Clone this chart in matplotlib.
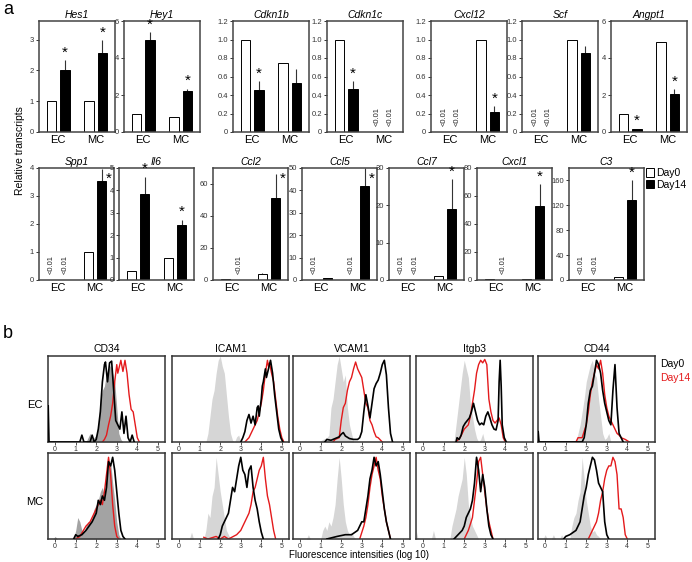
import numpy as np
import matplotlib.pyplot as plt
from matplotlib.ticker import FuncFormatter

plt.rcParams['font.family'] = ['Liberation Sans', 'DejaVu Sans']

# ---------- panel a : qPCR bars (None = "<0.01") ----------
groups = ['EC', 'MC']

top_genes = ['Hes1', 'Hey1', 'Cdkn1b', 'Cdkn1c', 'Cxcl12', 'Scf', 'Angpt1']
top_day0 = [[1.0, 1.0], [1.0, 0.8], [1.0, 0.75], [1.0, None], [None, 1.0], [None, 1.0], [1.0, 4.85]]
top_day14 = [[2.0, 2.55], [5.0, 2.2], [0.45, 0.53], [0.46, None], [None, 0.22], [None, 0.85], [0.17, 2.05]]
top_err0 = [[0, 0], [0, 0], [0, 0], [0, 0], [0, 0], [0, 0], [0, 0]]
top_err14 = [[0.32, 0.42], [0.4, 0.15], [0.1, 0.15], [0.09, 0], [0, 0.06], [0, 0.08], [0, 0.25]]
top_star = [[1, 1], [1, 1], [1, 0], [1, 0], [0, 1], [0, 0], [1, 1]]   # 1 above, 2 beside
top_ymax = [3.6, 6, 1.2, 1.2, 1.2, 1.2, 6]
top_yticks = [[0, 1, 2, 3], [0, 2, 4, 6], [0, 0.2, 0.4, 0.6, 0.8, 1.0, 1.2],
              [0, 0.2, 0.4, 0.6, 0.8, 1.0, 1.2], [0, 0.2, 0.4, 0.6, 0.8, 1.0, 1.2],
              [0, 0.2, 0.4, 0.6, 0.8, 1.0, 1.2], [0, 2, 4, 6]]
top_left = [39, 124, 233, 327, 431, 522, 611]

bot_genes = ['Spp1', 'Il6', 'Ccl2', 'Ccl5', 'Ccl7', 'Cxcl1', 'C3']
bot_day0 = [[None, 1.0], [0.38, 1.0], [0.8, 3.8], [None, None], [None, 1.0], [1.0, 0.5], [None, 5.0]]
bot_day14 = [[None, 3.55], [3.82, 2.45], [None, 51.5], [1.0, 42], [None, 19], [None, 52.5], [None, 128]]
bot_err0 = [[0, 0], [0, 0], [0, 0.8], [0, 0], [0, 0], [0, 0], [0, 0]]
bot_err14 = [[0, 0.4], [0.78, 0.25], [0, 14.5], [0, 8], [0, 8], [0, 16], [0, 32]]
bot_star = [[0, 2], [1, 1], [0, 2], [0, 2], [0, 1], [0, 1], [0, 1]]
bot_ymax = [4, 5, 70, 50, 30, 80, 180]
bot_yticks = [[0, 1, 2, 3, 4], [0, 1, 2, 3, 4, 5], [0, 20, 40, 60], [0, 10, 20, 30, 40, 50],
              [0, 10, 20, 30], [0, 20, 40, 60, 80], [0, 40, 80, 120, 160]]
bot_left = [39, 119, 213, 302, 389, 477, 569]

# ---------- panel b : flow histograms (x = log10 intensity, y = % of max) ----------
markers = ['CD34', 'ICAM1', 'VCAM1', 'Itgb3', 'CD44']

cd34_ec = {
    'ctrl': [(1.5, 0), (1.6, 5), (1.7, 10), (1.8, 3), (1.9, 5), (2.0, 8), (2.1, 20), (2.2, 50), (2.3, 60),
             (2.4, 65), (2.5, 80), (2.6, 85), (2.7, 90), (2.8, 80), (2.9, 70), (3.0, 40), (3.1, 10), (3.2, 3), (3.3, 0)],
    'day0': [(-0.34, 42), (-0.3, 0), (1.2, 0), (1.3, 8), (1.4, 0), (1.7, 0), (1.8, 8), (1.9, 0), (2.0, 3), (2.1, 15),
             (2.2, 35), (2.3, 70), (2.4, 90), (2.45, 93), (2.55, 70), (2.65, 92), (2.75, 94), (2.85, 60), (2.95, 25),
             (3.05, 20), (3.15, 15), (3.25, 35), (3.35, 10), (3.45, 30), (3.55, 5), (3.65, 0), (3.75, 8), (3.85, 0)],
    'day14': [(2.3, 0), (2.4, 3), (2.5, 8), (2.6, 20), (2.7, 30), (2.8, 45), (2.9, 70), (3.0, 90), (3.05, 80),
              (3.1, 85), (3.2, 95), (3.3, 82), (3.4, 95), (3.5, 80), (3.6, 55), (3.7, 38), (3.8, 35), (3.9, 20),
              (4.0, 5), (4.1, 0)],
}
icam1_ec = {
    'ctrl': [(1.3, 0), (1.4, 10), (1.5, 30), (1.6, 50), (1.7, 60), (1.8, 80), (1.9, 95), (2.0, 100), (2.1, 88),
             (2.2, 80), (2.3, 55), (2.4, 30), (2.5, 10), (2.6, 2), (2.7, 0), (2.8, 6), (2.9, 8), (3.0, 0)],
    'day0': [(3.0, 0), (3.1, 5), (3.2, 12), (3.3, 25), (3.4, 32), (3.5, 22), (3.6, 30), (3.7, 20), (3.8, 40),
             (3.85, 42), (3.9, 30), (4.0, 50), (4.05, 65), (4.1, 70), (4.2, 85), (4.25, 75), (4.35, 85), (4.45, 95),
             (4.55, 80), (4.65, 55), (4.75, 35), (4.85, 15), (4.95, 5), (5.05, 0)],
    'day14': [(3.2, 0), (3.4, 5), (3.6, 15), (3.8, 25), (3.9, 35), (4.0, 45), (4.1, 60), (4.2, 80), (4.3, 95),
              (4.35, 88), (4.4, 92), (4.5, 80), (4.6, 70), (4.7, 50), (4.8, 30), (4.9, 15), (5.0, 5), (5.1, 0)],
}
vcam1_ec = {
    'ctrl': [(0.9, 0), (1.1, 3), (1.3, 5), (1.4, 8), (1.5, 40), (1.6, 50), (1.7, 70), (1.8, 90), (1.9, 100),
             (2.0, 85), (2.1, 70), (2.2, 78), (2.3, 40), (2.4, 20), (2.5, 10), (2.6, 0)],
    'day0': [(1.2, 0), (1.3, 3), (1.5, 2), (1.7, 4), (1.9, 6), (2.0, 9), (2.1, 11), (2.2, 7), (2.4, 4), (2.6, 3),
             (2.8, 3), (2.9, 5), (3.0, 12), (3.1, 35), (3.2, 55), (3.3, 42), (3.4, 28), (3.5, 45), (3.6, 62),
             (3.7, 68), (3.8, 72), (3.9, 80), (4.0, 90), (4.1, 95), (4.2, 78), (4.3, 40), (4.4, 10), (4.5, 0)],
    'day14': [(1.6, 0), (1.7, 3), (1.9, 5), (2.0, 25), (2.1, 40), (2.2, 45), (2.3, 60), (2.4, 70), (2.5, 75),
              (2.6, 85), (2.7, 93), (2.8, 85), (2.9, 80), (3.0, 75), (3.1, 60), (3.2, 45), (3.3, 40), (3.4, 25),
              (3.5, 20), (3.6, 12), (3.7, 6), (3.8, 5), (4.0, 0)],
}
itgb3_ec = {
    'ctrl': [(1.5, 0), (1.6, 20), (1.7, 40), (1.8, 60), (1.9, 80), (2.0, 95), (2.1, 85), (2.2, 75), (2.3, 45),
             (2.4, 30), (2.5, 15), (2.6, 5), (2.7, 0), (2.8, 3), (2.9, 10), (3.0, 0)],
    'day0': [(1.6, 0), (1.65, 5), (1.75, 3), (1.85, 8), (1.95, 18), (2.05, 22), (2.15, 25), (2.25, 28), (2.35, 35),
             (2.45, 45), (2.55, 35), (2.65, 25), (2.75, 20), (2.85, 22), (2.95, 20), (3.05, 30), (3.15, 35),
             (3.25, 28), (3.35, 20), (3.45, 15), (3.55, 14), (3.65, 25), (3.7, 70), (3.75, 95), (3.8, 65),
             (3.85, 20), (3.95, 5), (4.05, 0)],
    'day14': [(1.6, 0), (1.8, 5), (2.0, 15), (2.2, 20), (2.3, 30), (2.4, 45), (2.5, 60), (2.6, 80), (2.7, 90),
              (2.8, 95), (2.9, 92), (3.0, 96), (3.1, 90), (3.2, 50), (3.3, 35), (3.4, 25), (3.5, 22), (3.6, 25),
              (3.7, 28), (3.8, 20), (3.9, 5), (4.0, 0)],
}
cd44_ec = {
    'ctrl': [(1.5, 0), (1.7, 20), (1.8, 35), (1.9, 50), (2.0, 70), (2.1, 80), (2.2, 90), (2.3, 95), (2.4, 80),
             (2.5, 75), (2.6, 50), (2.7, 30), (2.8, 10), (2.9, 3), (3.0, 5), (3.1, 10), (3.2, 0)],
    'day0': [(-0.34, 12), (-0.3, 0), (1.8, 0), (1.9, 5), (2.0, 20), (2.1, 45), (2.2, 60), (2.3, 65), (2.4, 80),
             (2.5, 95), (2.6, 90), (2.7, 80), (2.8, 60), (2.9, 45), (3.0, 35), (3.1, 25), (3.2, 20), (3.3, 60),
             (3.4, 90), (3.5, 40), (3.6, 10), (3.7, 5), (3.8, 0)],
    'day14': [(1.5, 0), (1.6, 5), (1.8, 5), (2.0, 20), (2.1, 35), (2.2, 55), (2.3, 70), (2.4, 80), (2.5, 90),
              (2.6, 85), (2.7, 95), (2.8, 80), (2.9, 55), (3.0, 40), (3.1, 30), (3.2, 25), (3.3, 20), (3.4, 15),
              (3.5, 10), (3.6, 8), (3.7, 5), (3.9, 3), (4.1, 0)],
}
cd34_mc = {
    'ctrl': [(-0.1, 0), (0.0, 3), (0.1, 0), (0.9, 0), (1.0, 10), (1.1, 25), (1.2, 20), (1.3, 10), (1.4, 8),
             (1.5, 15), (1.6, 20), (1.7, 20), (1.8, 25), (1.9, 35), (2.0, 40), (2.1, 45), (2.2, 55), (2.3, 60),
             (2.4, 50), (2.5, 70), (2.6, 85), (2.7, 90), (2.8, 65), (2.9, 45), (3.0, 20), (3.1, 5), (3.2, 0)],
    'day0': [(0.9, 0), (1.0, 5), (1.1, 3), (1.3, 5), (1.5, 10), (1.8, 20), (2.0, 30), (2.1, 45), (2.2, 40),
             (2.3, 50), (2.4, 45), (2.5, 60), (2.6, 90), (2.7, 85), (2.8, 95), (2.9, 80), (3.0, 55), (3.1, 30),
             (3.2, 10), (3.3, 3), (3.4, 0)],
    'day14': [(1.0, 0), (1.2, 3), (1.5, 15), (1.7, 20), (1.9, 30), (2.0, 35), (2.1, 40), (2.2, 45), (2.3, 40),
              (2.4, 55), (2.5, 75), (2.6, 95), (2.7, 75), (2.8, 40), (2.9, 15), (3.0, 3), (3.1, 0)],
}
icam1_mc = {
    'ctrl': [(0.5, 0), (0.6, 8), (0.7, 0), (1.2, 0), (1.3, 10), (1.4, 30), (1.5, 25), (1.6, 50), (1.7, 60),
             (1.8, 95), (1.9, 75), (2.0, 55), (2.1, 40), (2.2, 25), (2.3, 10), (2.4, 5), (2.5, 0)],
    'day0': [(1.9, 0), (2.0, 5), (2.1, 15), (2.2, 20), (2.3, 25), (2.4, 30), (2.5, 45), (2.6, 60), (2.7, 55),
             (2.8, 70), (2.9, 85), (3.0, 95), (3.1, 80), (3.2, 75), (3.3, 60), (3.4, 80), (3.5, 85), (3.6, 60),
             (3.7, 45), (3.8, 35), (3.9, 20), (4.0, 8), (4.1, 0)],
    'day14': [(1.2, 2), (1.4, 0), (1.8, 3), (2.0, 0), (2.2, 3), (2.4, 0), (2.8, 5), (3.0, 10), (3.2, 20),
              (3.4, 30), (3.5, 40), (3.6, 55), (3.7, 60), (3.8, 70), (3.9, 80), (4.0, 85), (4.1, 95), (4.2, 70),
              (4.3, 50), (4.4, 40), (4.5, 25), (4.6, 10), (4.7, 0)],
}
vcam1_mc = {
    'ctrl': [(0.3, 0), (0.4, 5), (0.5, 0), (1.0, 0), (1.1, 10), (1.2, 15), (1.3, 10), (1.4, 20), (1.5, 15),
             (1.6, 25), (1.7, 40), (1.8, 70), (1.9, 95), (2.0, 70), (2.1, 40), (2.2, 20), (2.3, 10), (2.4, 5),
             (2.5, 8), (2.6, 3), (2.7, 0)],
    'day0': [(1.3, 0), (1.8, 3), (2.2, 5), (2.5, 5), (2.8, 10), (3.0, 20), (3.1, 20), (3.2, 35), (3.3, 50),
             (3.4, 70), (3.5, 80), (3.6, 95), (3.7, 85), (3.8, 90), (3.9, 75), (4.0, 55), (4.1, 35), (4.2, 20),
             (4.3, 10), (4.4, 0)],
    'day14': [(2.9, 0), (3.1, 15), (3.2, 25), (3.3, 40), (3.4, 60), (3.5, 75), (3.6, 85), (3.7, 95), (3.8, 80),
              (3.9, 70), (4.0, 50), (4.1, 35), (4.2, 20), (4.3, 10), (4.4, 0)],
}
itgb3_mc = {
    'ctrl': [(-0.34, 10), (-0.25, 0), (0.4, 0), (0.5, 10), (0.6, 0), (1.3, 0), (1.4, 15), (1.5, 25), (1.6, 35),
             (1.7, 50), (1.8, 60), (1.9, 70), (2.0, 95), (2.1, 75), (2.2, 40), (2.3, 25), (2.4, 15), (2.5, 10),
             (2.6, 5), (2.7, 0)],
    'day0': [(1.5, 0), (1.7, 5), (1.9, 10), (2.0, 15), (2.1, 25), (2.2, 30), (2.3, 35), (2.4, 45), (2.5, 65),
             (2.6, 95), (2.7, 80), (2.8, 55), (2.9, 75), (3.0, 60), (3.1, 35), (3.2, 15), (3.3, 5), (3.4, 0)],
    'day14': [(2.0, 0), (2.2, 10), (2.4, 25), (2.5, 45), (2.6, 65), (2.7, 90), (2.8, 95), (2.9, 75), (3.0, 55),
              (3.1, 35), (3.2, 20), (3.3, 10), (3.4, 0)],
}
cd44_mc = {
    'ctrl': [(-0.1, 0), (0.0, 5), (0.1, 0), (0.3, 0), (0.4, 5), (0.5, 0), (0.7, 0), (0.8, 5), (0.9, 0), (1.2, 0),
             (1.3, 15), (1.4, 25), (1.5, 30), (1.6, 45), (1.7, 55), (1.8, 95), (1.9, 70), (2.0, 45), (2.1, 30),
             (2.2, 15), (2.3, 8), (2.4, 10), (2.5, 5), (2.6, 3), (2.7, 0)],
    'day0': [(0.9, 0), (1.0, 3), (1.2, 5), (1.5, 10), (1.7, 20), (1.8, 35), (1.9, 50), (2.0, 60), (2.1, 75),
             (2.2, 85), (2.3, 95), (2.4, 92), (2.5, 80), (2.6, 65), (2.7, 60), (2.8, 55), (2.9, 20), (3.0, 5),
             (3.1, 0)],
    'day14': [(2.1, 0), (2.3, 10), (2.5, 20), (2.6, 30), (2.7, 45), (2.8, 55), (2.9, 70), (3.0, 80), (3.1, 85),
              (3.2, 85), (3.3, 95), (3.4, 90), (3.5, 75), (3.6, 35), (3.7, 35), (3.8, 25), (3.9, 5), (4.0, 0)],
}
ec_row = [cd34_ec, icam1_ec, vcam1_ec, itgb3_ec, cd44_ec]
mc_row = [cd34_mc, icam1_mc, vcam1_mc, itgb3_mc, cd44_mc]
flow_left = [48, 172, 293, 416, 538]

W, H = 692, 562
fig = plt.figure(figsize=(W / 100, H / 100), dpi=100)


def box(x0, y0, x1, y1):
    # axes from pixel corners (top-left origin)
    return fig.add_axes([x0 / W, 1 - y1 / H, (x1 - x0) / W, (y1 - y0) / H])


def ftext(x, y, s, **kw):
    fig.text(x / W, 1 - y / H, s, **kw)


handles = []


def bar_panel(ax, gene, d0, d14, e0, e14, star, ymax, ticks):
    off, bw = 0.18, 0.25
    for i in range(2):
        for val, err, dx, col in ((d0[i], e0[i], -off, 'white'), (d14[i], e14[i], off, 'black')):
            if val is None:
                ax.text(i + dx, ymax * 0.055, '<0.01', rotation=90, ha='center', va='bottom',
                        fontsize=5.5, color='#222222')
                continue
            b = ax.bar(i + dx, val, bw, color=col, edgecolor='black', linewidth=0.7, zorder=2)
            if len(handles) < 2 and all(h.get_facecolor() != b[0].get_facecolor() for h in handles):
                handles.append(b[0])
            if err:
                ax.errorbar(i + dx, val, yerr=[[0], [err]], fmt='none', ecolor='#333333',
                            elinewidth=0.8, capsize=0, zorder=1)
        top = (d14[i] or 0) + e14[i]
        if star[i] == 1:
            ax.annotate('*', (i + off, top), xytext=(0, 0.5), textcoords='offset points',
                        ha='center', va='bottom', fontsize=11)
        elif star[i] == 2:
            ax.annotate('*', (i + off, ymax), xytext=(5, -8), textcoords='offset points',
                        ha='center', va='center', fontsize=11)
    ax.set_xlim(-0.52, 1.52)
    ax.set_ylim(0, ymax)
    ax.set_xticks([0, 1])
    ax.set_xticklabels(groups, fontsize=8)
    ax.tick_params(axis='x', length=0, pad=2.5)
    ax.set_yticks(ticks)
    frac = any(t != int(t) for t in ticks)
    ax.yaxis.set_major_formatter(FuncFormatter(
        lambda v, p: '0' if v == 0 else (f'{v:.1f}' if frac else f'{v:g}')))
    ax.tick_params(axis='y', length=2.5, width=0.7, labelsize=5.5, pad=1, colors='#333333')
    ax.set_title(gene, fontsize=7.5, style='italic', pad=2.5)
    for s in ax.spines.values():
        s.set_linewidth(1.1)
        s.set_color('#444444')


for k, gene in enumerate(top_genes):
    ax = box(top_left[k], 21, top_left[k] + 76, 132)
    bar_panel(ax, gene, top_day0[k], top_day14[k], top_err0[k], top_err14[k],
              top_star[k], top_ymax[k], top_yticks[k])

for k, gene in enumerate(bot_genes):
    ax = box(bot_left[k], 168, bot_left[k] + 75, 280)
    bar_panel(ax, gene, bot_day0[k], bot_day14[k], bot_err0[k], bot_err14[k],
              bot_star[k], bot_ymax[k], bot_yticks[k])

fig.legend(handles, ['Day0', 'Day14'], loc='upper left', bbox_to_anchor=(646 / W, 1 - 168 / H),
           frameon=False, fontsize=7.5, handlelength=0.8, handleheight=0.9, handletextpad=0.2,
           labelspacing=0.15, borderpad=0, borderaxespad=0)

ftext(20, 151, 'Relative transcripts', rotation=90, ha='center', va='center', fontsize=7.5)
ftext(3, 10, 'a', fontsize=13, va='center')
ftext(3, 333, 'b', fontsize=13, va='center')


# ---------- panel b ----------
def flow_panel(ax, curves, dark):
    cx, cy = np.array(curves['ctrl']).T
    ax.fill_between(cx, cy, color='#a3a3a3' if dark else '#d6d6d6', lw=0, zorder=1)
    rx, ry = np.array(curves['day14']).T
    ax.plot(rx, ry, color='#e41a1c', lw=1.0, zorder=2)
    bx, by = np.array(curves['day0']).T
    ax.plot(bx, by, color='black', lw=1.2, zorder=3)
    ax.set_xlim(-0.35, 5.35)
    ax.set_ylim(0, 100)
    ax.set_xticks(range(6))
    ax.set_yticks([])
    ax.tick_params(axis='x', length=2, width=0.6, labelsize=5, pad=1, colors='#333333')
    for s in ax.spines.values():
        s.set_linewidth(1.1)
        s.set_color('#333333')


for k, name in enumerate(markers):
    ax = box(flow_left[k], 356, flow_left[k] + 117, 442)
    flow_panel(ax, ec_row[k], k == 0)
    ax.set_title(name, fontsize=7.5, pad=3)
    ax = box(flow_left[k], 453, flow_left[k] + 117, 539)
    flow_panel(ax, mc_row[k], k == 0)

ftext(35, 405, 'EC', ha='center', va='center', fontsize=8)
ftext(35, 502, 'MC', ha='center', va='center', fontsize=8)
ftext(660, 364, 'Day0', ha='left', va='center', fontsize=7.5)
ftext(660, 378, 'Day14', ha='left', va='center', fontsize=7.5, color='#e41a1c')
ftext(359, 555, 'Fluorescence intensities (log 10)', ha='center', va='center', fontsize=7)

fig.savefig('out.png', dpi=100)
